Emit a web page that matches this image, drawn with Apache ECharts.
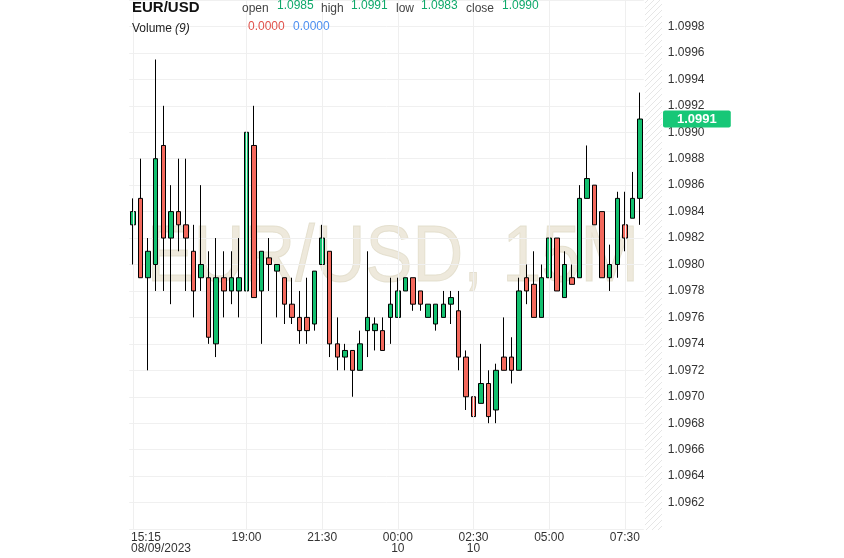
<!DOCTYPE html>
<html>
<head>
<meta charset="utf-8">
<script src="https://cdn.jsdelivr.net/npm/echarts@6/dist/echarts.min.js"></script>
<style>
  html, body { margin: 0; padding: 0; background: #fff; }
  #chart { width: 844px; height: 558px; }
</style>
</head>
<body>
<div id="chart"></div>
<script>
// 15 分钟 K 线，08/09/2023 15:15 到 10 日 08:00
var times = [
  '15:15','15:30','15:45','16:00','16:15','16:30','16:45','17:00','17:15','17:30',
  '17:45','18:00','18:15','18:30','18:45','19:00','19:15','19:30','19:45','20:00',
  '20:15','20:30','20:45','21:00','21:15','21:30','21:45','22:00','22:15','22:30',
  '22:45','23:00','23:15','23:30','23:45','00:00','00:15','00:30','00:45','01:00',
  '01:15','01:30','01:45','02:00','02:15','02:30','02:45','03:00','03:15','03:30',
  '03:45','04:00','04:15','04:30','04:45','05:00','05:15','05:30','05:45','06:00',
  '06:15','06:30','06:45','07:00','07:15','07:30','07:45','08:00'
];
var opens = [
  1.0983,1.0985,1.0979,1.0980,1.0989,1.0982,1.0984,1.0983,1.0981,1.0979,
  1.0979,1.0974,1.0979,1.0978,1.0978,1.0978,1.0989,1.0978,1.09805,1.09795,
  1.0979,1.0977,1.0976,1.0976,1.09755,1.0980,1.0981,1.0974,1.0973,1.09735,
  1.0972,1.0975,1.0975,1.0975,1.0976,1.0976,1.0978,1.0979,1.0978,1.0976,
  1.09755,1.0976,1.0977,1.09765,1.0973,1.0970,1.09695,1.0971,1.0969,1.0973,
  1.0973,1.0972,1.0979,1.09785,1.0976,1.0979,1.0982,1.09775,1.0979,1.0979,
  1.0985,1.0986,1.0984,1.0979,1.0980,1.0983,1.09835,1.0985
];
var closes = [
  1.0984,1.0979,1.0981,1.0988,1.0982,1.0984,1.0983,1.0982,1.0978,1.0980,
  1.09745,1.0979,1.0978,1.0979,1.0979,1.0990,1.09775,1.0981,1.0980,1.0980,
  1.0977,1.0976,1.0975,1.0975,1.09795,1.0982,1.0974,1.0973,1.09735,1.0972,
  1.0974,1.0976,1.09755,1.09735,1.0977,1.0978,1.0979,1.0977,1.0977,1.0977,
  1.0977,1.0977,1.09775,1.0973,1.0970,1.09685,1.0971,1.09685,1.0972,1.0972,
  1.0972,1.0978,1.0978,1.0976,1.0979,1.0982,1.0978,1.0980,1.09785,1.0985,
  1.09865,1.0983,1.0979,1.0980,1.0985,1.0982,1.0985,1.0991
];
var lows = [
  1.0980,1.0979,1.0972,1.0978,1.0978,1.0977,1.0981,1.0978,1.0976,1.0978,
  1.0974,1.0973,1.0976,1.0977,1.0976,1.0977,1.09775,1.0974,1.0978,1.0976,
  1.09755,1.09755,1.0974,1.0974,1.0975,1.0980,1.0973,1.0972,1.0972,1.0970,
  1.0972,1.0973,1.09735,1.09735,1.0974,1.0976,1.0978,1.09765,1.09765,1.0976,
  1.0975,1.0976,1.09755,1.0972,1.0969,1.09675,1.09695,1.0968,1.0968,1.0972,
  1.0971,1.0972,1.0977,1.0976,1.0976,1.0979,1.0978,1.09775,1.09785,1.0979,
  1.0985,1.0983,1.0979,1.0978,1.0979,1.0981,1.09835,1.0983
];
var highs = [
  1.0985,1.0988,1.0982,1.09955,1.0992,1.0986,1.0988,1.0988,1.0983,1.0986,
  1.0981,1.0982,1.0981,1.0981,1.0982,1.0990,1.0992,1.0981,1.0982,1.0980,
  1.0979,1.0979,1.0978,1.0979,1.09795,1.0983,1.0981,1.0976,1.0974,1.09735,
  1.0975,1.0981,1.0976,1.0976,1.0979,1.0979,1.0979,1.0979,1.0978,1.0977,
  1.0977,1.0978,1.0978,1.0978,1.09735,1.0971,1.0974,1.0972,1.09725,1.0976,
  1.09745,1.0979,1.0980,1.0981,1.0980,1.0982,1.0982,1.0981,1.0980,1.0986,
  1.0989,1.0986,1.0984,1.09815,1.09855,1.09855,1.0987,1.0993
];
// 横轴显示的刻度
var labelIdx = [0, 15, 25, 35, 45, 55, 65];
var labelText = ['15:15\n08/09/2023', '19:00', '21:30', '00:00\n10', '02:30\n10', '05:00', '07:30'];
var lastPrice = 1.0991;
var header = { open: '1.0985', high: '1.0991', low: '1.0983', close: '1.0990' };

var FONT = 'Arial, "Liberation Sans", sans-serif';
var UP = '#12c06f', DOWN = '#f3685c';

var kData = times.map(function (t, i) {
  return [opens[i], closes[i], lows[i], highs[i]];
});

// 右侧斜线填充
var hatch = document.createElement('canvas');
hatch.width = 6; hatch.height = 6;
var hc = hatch.getContext('2d');
hc.strokeStyle = '#e6e6e6';
hc.lineWidth = 1;
hc.beginPath();
hc.moveTo(0, 6); hc.lineTo(6, 0);
hc.moveTo(-1, 1); hc.lineTo(1, -1);
hc.moveTo(5, 7); hc.lineTo(7, 5);
hc.stroke();

var chart = echarts.init(document.getElementById('chart'));

var option = {
  animation: false,
  backgroundColor: '#fff',
  grid: { left: 129.2, right: 200.2, top: -1, bottom: 29 },
  xAxis: {
    type: 'category',
    data: times,
    boundaryGap: true,
    axisLine: { show: false },
    axisTick: { show: false },
    splitLine: { show: false },
    axisLabel: {
      interval: function (i) { return labelIdx.indexOf(i) >= 0; },
      margin: 3,
      color: '#333',
      fontSize: 12,
      fontFamily: FONT,
      lineHeight: 11,
      formatter: function (v, i) {
        var k = labelIdx.indexOf(i);
        if (k < 0) return '';
        if (k === 0) {
          var parts = labelText[0].split('\n');
          return '{f|' + parts[0] + '}\n{f|' + parts[1] + '}';
        }
        return labelText[k];
      },
      rich: {
        f: { align: 'left', padding: [0, 0, 0, 56], fontSize: 12, fontFamily: FONT, color: '#333', lineHeight: 11 }
      }
    }
  },
  yAxis: {
    type: 'value',
    position: 'right',
    min: 1.0960,
    max: 1.1000,
    interval: 0.0002,
    scale: true,
    axisLine: { show: false },
    axisTick: { show: false },
    splitLine: { lineStyle: { color: '#f0f0f0', width: 1 } },
    axisLabel: {
      margin: 24,
      color: '#333',
      fontSize: 12,
      fontFamily: FONT,
      showMinLabel: false,
      showMaxLabel: false,
      formatter: function (v) { return v.toFixed(4); }
    }
  },
  graphic: [
    {
      type: 'rect', z: 0, silent: true,
      shape: { x: 645, y: 0, width: 17, height: 530 },
      style: { fill: { image: hatch, repeat: 'repeat' } }
    },
    {
      type: 'text', z: 0, silent: true,
      x: 393, y: 259, scaleX: 0.89,
      style: {
        text: 'EUR/USD, 15M', x: 0, y: 0,
        textAlign: 'center', textVerticalAlign: 'middle',
        font: '79px ' + FONT,
        fill: 'rgba(226,219,196,0.6)',
        stroke: 'rgba(200,192,162,0.45)', lineWidth: 1
      }
    },
    {
      type: 'text', z: 100, silent: true,
      style: { text: 'EUR/USD', x: 132, y: 8, textVerticalAlign: 'middle', font: 'bold 15px ' + FONT, fill: '#111' }
    },
    { type: 'text', z: 100, style: { text: 'open', x: 242, y: 9, textVerticalAlign: 'middle', font: '12px ' + FONT, fill: '#444' } },
    { type: 'text', z: 100, style: { text: header.open, x: 277, y: 6, textVerticalAlign: 'middle', font: '12px ' + FONT, fill: '#0ea86a' } },
    { type: 'text', z: 100, style: { text: 'high', x: 321, y: 9, textVerticalAlign: 'middle', font: '12px ' + FONT, fill: '#444' } },
    { type: 'text', z: 100, style: { text: header.high, x: 351, y: 6, textVerticalAlign: 'middle', font: '12px ' + FONT, fill: '#0ea86a' } },
    { type: 'text', z: 100, style: { text: 'low', x: 396, y: 9, textVerticalAlign: 'middle', font: '12px ' + FONT, fill: '#444' } },
    { type: 'text', z: 100, style: { text: header.low, x: 421, y: 6, textVerticalAlign: 'middle', font: '12px ' + FONT, fill: '#0ea86a' } },
    { type: 'text', z: 100, style: { text: 'close', x: 466, y: 9, textVerticalAlign: 'middle', font: '12px ' + FONT, fill: '#444' } },
    { type: 'text', z: 100, style: { text: header.close, x: 502, y: 6, textVerticalAlign: 'middle', font: '12px ' + FONT, fill: '#0ea86a' } },
    { type: 'text', z: 100, style: { text: 'Volume', x: 132, y: 29, textVerticalAlign: 'middle', font: '12px ' + FONT, fill: '#222' } },
    { type: 'text', z: 100, style: { text: '(9)', x: 175, y: 29, textVerticalAlign: 'middle', font: 'italic 12px ' + FONT, fill: '#222' } },
    { type: 'text', z: 100, style: { text: '0.0000', x: 248, y: 27, textVerticalAlign: 'middle', font: '12px ' + FONT, fill: '#e0524b' } },
    { type: 'text', z: 100, style: { text: '0.0000', x: 293, y: 27, textVerticalAlign: 'middle', font: '12px ' + FONT, fill: '#4d8ff0' } }
  ],
  series: [
    {
      // 竖向网格线
      type: 'line',
      data: [],
      z: 1,
      silent: true,
      markLine: {
        silent: true,
        symbol: ['none', 'none'],
        label: { show: false },
        lineStyle: { color: '#efefef', width: 1, type: 'solid' },
        data: labelIdx.map(function (i) { return { xAxis: i }; })
      }
    },
    {
      type: 'candlestick',
      z: 3,
      barWidth: 5,
      data: kData,
      itemStyle: {
        color: UP,
        color0: DOWN,
        borderColor: '#000',
        borderColor0: '#000',
        borderWidth: 1
      },
      markLine: {
        silent: true,
        symbol: ['none', 'none'],
        lineStyle: { color: 'rgba(0,0,0,0)', width: 0 },
        label: {
          show: true,
          position: 'end',
          distance: 23,
          formatter: function () { return lastPrice.toFixed(4); },
          color: '#fff',
          fontWeight: 'bold',
          fontSize: 13,
          fontFamily: FONT,
          backgroundColor: '#17c777',
          borderRadius: 2,
          padding: [2, 14, 2, 14]
        },
        data: [[
          { coord: [0, lastPrice] },
          { coord: [times.length - 1, lastPrice] }
        ]]
      }
    }
  ]
};

chart.setOption(option);
</script>
</body>
</html>
